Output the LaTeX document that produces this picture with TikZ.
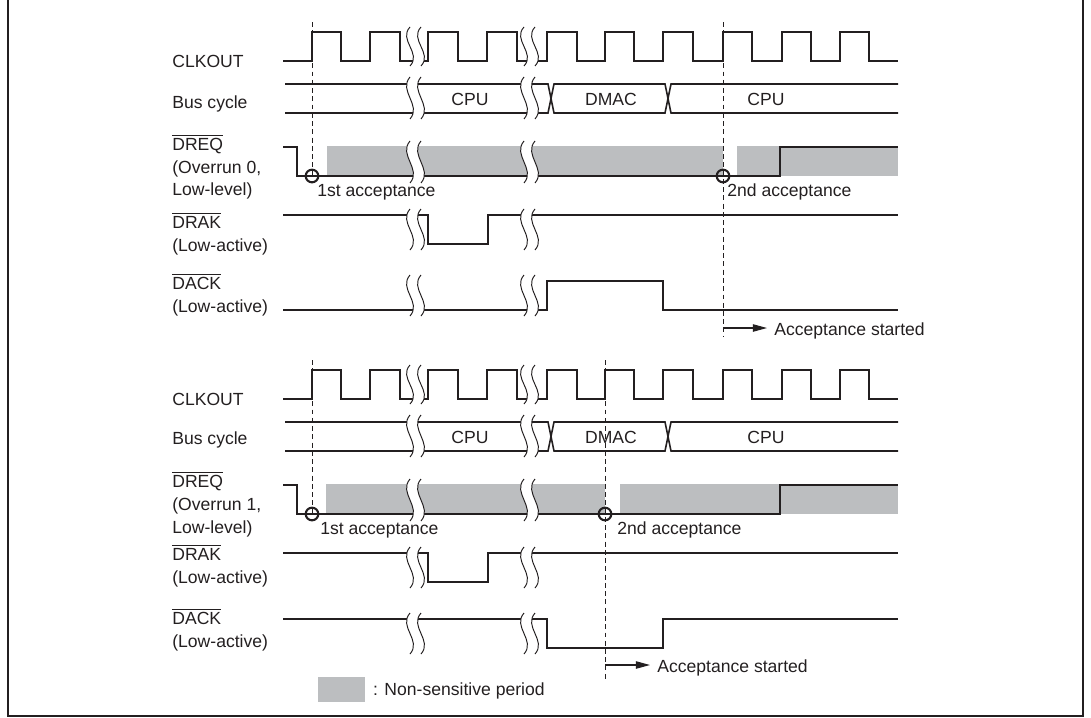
\documentclass[tikz,border=0pt]{standalone}
\usepackage{fontspec}
\setmainfont{Liberation Sans}
\usetikzlibrary{arrows.meta,calc}
\definecolor{ink}{RGB}{35,31,32}
\definecolor{shadegray}{RGB}{188,190,192}
\newcommand{\ovl}[1]{$\overline{\mbox{#1}}$}
% break mark: two S-shaped strokes with white gap between them
\newcommand{\brkpair}[3]{%
  \pgfmathsetmacro{\bxa}{#1}\pgfmathsetmacro{\bxb}{#1+11}%
  \pgfmathsetmacro{\bya}{#2+(#3-#2)/3}\pgfmathsetmacro{\byb}{#2+2*(#3-#2)/3}%
  \fill[white] (\bxa,#2) .. controls (\bxa-12,\bya) and (\bxa+12,\byb) .. (\bxa,#3)
     -- (\bxb,#3) .. controls (\bxb+12,\byb) and (\bxb-12,\bya) .. (\bxb,#2) -- cycle;
  \draw[brkline] (\bxa,#2) .. controls (\bxa-12,\bya) and (\bxa+12,\byb) .. (\bxa,#3);
  \draw[brkline] (\bxb,#2) .. controls (\bxb-12,\bya) and (\bxb+12,\byb) .. (\bxb,#3);
}
\newcommand{\commonwaves}{%
  % CLKOUT
  \draw[sig] (283,61) -- (312,61) -- (312,32) -- (341,32) -- (341,61) -- (370,61) -- (370,32)
    -- (400,32) -- (400,61) -- (428,61) -- (428,32) -- (458,32) -- (458,61) -- (487,61)
    -- (487,32) -- (517,32) -- (517,61) -- (547,61) -- (547,32) -- (577,32) -- (577,61)
    -- (605,61) -- (605,32) -- (634,32) -- (634,61) -- (663,61) -- (663,32) -- (693,32)
    -- (693,61) -- (723,61) -- (723,32) -- (752,32) -- (752,61) -- (782,61) -- (782,32)
    -- (811,32) -- (811,61) -- (840,61) -- (840,32) -- (869,32) -- (869,61) -- (898,61);
  % Bus cycle
  \draw[bus] (285,84) -- (548,84) -- (554,113) -- (665,113) -- (671,84) -- (898,84);
  \draw[bus] (285,113) -- (548,113) -- (554,84) -- (665,84) -- (671,113) -- (898,113);
  % DREQ
  \draw[sig] (283,147) -- (297,147) -- (297,176) -- (780,176) -- (780,147) -- (898,147);
  % DRAK
  \draw[sig] (283,215) -- (428,215) -- (428,244) -- (488,244) -- (488,215) -- (898,215);
}
\newcommand{\allbreaks}{%
  \foreach \bx in {410,524} {
    \brkpair{\bx}{27}{66}
    \brkpair{\bx}{77}{119}
    \brkpair{\bx}{141}{183}
    \brkpair{\bx}{209}{250}
    \brkpair{\bx}{275}{316}
  }
}
\begin{document}
\begin{tikzpicture}[x=0.02cm,y=-0.02cm,
  sig/.style={draw=ink,line width=1.2pt,line join=miter},
  bus/.style={draw=ink,line width=0.9pt,line join=miter},
  brkline/.style={draw=ink,line width=0.55pt},
  dsh/.style={draw=ink,line width=0.55pt,dash pattern=on 2.8pt off 1.9pt},
  lbl/.style={anchor=base west,inner sep=0pt,text=ink,font=\fontsize{10}{12}\selectfont},
  ctr/.style={anchor=base,inner sep=0pt,text=ink,font=\fontsize{10}{12}\selectfont},
  acc/.style={draw=ink,line width=0.6pt,-{Triangle[length=8pt,width=4.2pt]},shorten >=4pt},
  accmark/.style={draw=ink,line width=1.2pt}]
\useasboundingbox (0,0) rectangle (1091,717);
\draw[draw=ink,line width=0.6pt] (8,-5) -- (8,716) -- (1083,716) -- (1083,-5);

% ================= upper diagram =================
\begin{scope}
  \fill[shadegray] (327,146) rectangle (723,176);
  \fill[shadegray] (737,146) rectangle (898,176);
  \commonwaves
  \draw[sig] (283,310) -- (547,310) -- (547,281) -- (663,281) -- (663,310) -- (898,310);
  \allbreaks
  \node[lbl] (clkA) at (172,67) {CLKOUT};
  \node[lbl] (busA) at (172,108) {Bus cycle};
  \node[lbl] (dreqA) at (172,150.5) {\ovl{DREQ}};
  \node[lbl] (dreqA2) at (172,173) {(Overrun 0,};
  \node[lbl] (dreqA3) at (172,195) {Low-level)};
  \node[lbl] (drakA) at (172,228) {\ovl{DRAK}};
  \node[lbl] (drakA2) at (172,251) {(Low-active)};
  \node[lbl] (dackA) at (172,289) {\ovl{DACK}};
  \node[lbl] (dackA2) at (172,312) {(Low-active)};
  \node[ctr] (cpuA1) at (470,105) {CPU};
  \node[ctr] (dmacA) at (611,105) {DMAC};
  \node[ctr] (cpuA2) at (766,105) {CPU};
  \node[lbl] (firstA) at (317,196) {1st acceptance};
  \node[lbl] (secondA) at (727,196) {2nd acceptance};
  \draw[dsh] (312,22) -- (312,176);
  \draw[dsh] (723,22) -- (723,336);
  \draw[accmark] (312,176) circle[radius=3.6pt];
  \draw[accmark] (723,176) circle[radius=3.6pt];
  \coordinate (accA) at (723,328);
  \node[lbl] (accAt) at (774,335) {Acceptance started};
  \draw[acc] (accA) -- (accA -| accAt.west);
\end{scope}

% ================= lower diagram =================
\begin{scope}[shift={(0,338)}]
  \fill[shadegray] (326,146) rectangle (605,176);
  \fill[shadegray] (620,146) rectangle (898,176);
  \commonwaves
  \draw[sig] (283,281) -- (547,281) -- (547,310) -- (663,310) -- (663,281) -- (898,281);
  \allbreaks
  \node[lbl] (clkB) at (172,67) {CLKOUT};
  \node[lbl] (busB) at (172,106) {Bus cycle};
  \node[lbl] (dreqB) at (172,149) {\ovl{DREQ}};
  \node[lbl] (dreqB2) at (172,172) {(Overrun 1,};
  \node[lbl] (dreqB3) at (172,195) {Low-level)};
  \node[lbl] (drakB) at (172,222) {\ovl{DRAK}};
  \node[lbl] (drakB2) at (172,245) {(Low-active)};
  \node[lbl] (dackB) at (172,286) {\ovl{DACK}};
  \node[lbl] (dackB2) at (172,309) {(Low-active)};
  \node[ctr] (cpuB1) at (470,105) {CPU};
  \node[ctr] (dmacB) at (611,105) {DMAC};
  \node[ctr] (cpuB2) at (766,105) {CPU};
  \node[lbl] (firstB) at (320,196) {1st acceptance};
  \node[lbl] (secondB) at (617,196) {2nd acceptance};
  \draw[dsh] (312,22) -- (312,176);
  \draw[dsh] (605,22) -- (605,342);
  \draw[accmark] (312,176) circle[radius=3.6pt];
  \draw[accmark] (605,176) circle[radius=3.6pt];
  \coordinate (accB) at (605,327);
  \node[lbl] (accBt) at (657,334) {Acceptance started};
  \draw[acc] (accB) -- (accB -| accBt.west);
\end{scope}

% legend
\node[lbl,anchor=base east] (leg) at (545,695) {: Non-sensitive period};
\fill[shadegray] ($(leg.west)+(-55,-13)$) rectangle ($(leg.west)+(-8,12)$);
\end{tikzpicture}
\end{document}
